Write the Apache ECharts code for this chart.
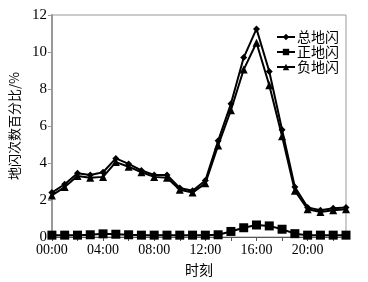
<!DOCTYPE html>
<html><head><meta charset="utf-8">
<script src="https://cdn.jsdelivr.net/npm/echarts@6/dist/echarts.min.js"></script>
<style>html,body{margin:0;padding:0;background:#fff}#c{width:368px;height:282px}</style>
</head><body><div id="c"></div>
<script>
const hours = ["00:00","01:00","02:00","03:00","04:00","05:00","06:00","07:00","08:00","09:00","10:00","11:00","12:00","13:00","14:00","15:00","16:00","17:00","18:00","19:00","20:00","21:00","22:00","23:00"];
const totalFlash = [2.4,2.85,3.45,3.35,3.5,4.25,3.95,3.6,3.35,3.35,2.65,2.5,3.05,5.2,7.2,9.7,11.25,8.95,5.8,2.7,1.6,1.45,1.55,1.6];
const positiveFlash = [0.1,0.1,0.1,0.12,0.17,0.15,0.12,0.1,0.1,0.1,0.1,0.1,0.1,0.12,0.3,0.5,0.65,0.6,0.42,0.18,0.1,0.1,0.1,0.1];
const negativeFlash = [2.25,2.7,3.3,3.2,3.25,4.05,3.8,3.5,3.25,3.2,2.55,2.4,2.9,4.95,6.85,9.05,10.5,8.2,5.45,2.5,1.5,1.35,1.45,1.5];
const yTicks = [0,2,4,6,8,10,12];
const names = ["总地闪","正地闪","负地闪"];

const serif = "'Liberation Serif','Noto Sans CJK SC',serif";
const chart = echarts.init(document.getElementById('c'));
const mk = (name, data, symbol, size) => ({
  name, type: 'line', data, symbol, symbolSize: size, showAllSymbol: true,
  lineStyle: {color: '#000', width: 2},
  itemStyle: {color: '#000'},
  emphasis: {disabled: true}, animation: false
});
chart.setOption({
  animation: false,
  grid: {left: 42, right: 22, top: 15, bottom: 43, show: true, borderColor: '#999', borderWidth: 1, backgroundColor: '#fff'},
  legend: {
    right: 24, top: 25, orient: 'vertical', itemGap: 1, itemWidth: 18, itemHeight: 8,
    textStyle: {fontFamily: "'Noto Sans CJK SC',serif", fontSize: 14, color: '#000', padding: [0,0,0,-3]},
    data: names
  },
  xAxis: {
    type: 'category', data: hours, boundaryGap: false,
    name: '时刻', nameLocation: 'middle', nameGap: 26,
    nameTextStyle: {fontFamily: "'Noto Sans CJK SC',serif", fontSize: 14, color: '#000'},
    axisLine: {lineStyle: {color: '#555', width: 1}},
    axisTick: {interval: 1, length: 4, lineStyle: {color: '#555'}},
    axisLabel: {interval: 3, fontFamily: serif, fontSize: 14, color: '#000', margin: 6}
  },
  yAxis: {
    type: 'value', min: 0, max: 12, interval: 2,
    name: '地闪次数百分比/%', nameLocation: 'middle', nameGap: 22, nameRotate: 90,
    nameTextStyle: {fontFamily: "'Noto Sans CJK SC',serif", fontSize: 13, color: '#000'},
    axisLine: {show: true, lineStyle: {color: '#999', width: 2}},
    axisTick: {show: true, length: 4, lineStyle: {color: '#999'}},
    splitLine: {show: false},
    axisLabel: {fontFamily: serif, fontSize: 15, color: '#000', margin: 5,
      formatter: v => yTicks.includes(v) ? String(v) : ''}
  },
  series: [
    mk(names[0], totalFlash, 'diamond', 7),
    mk(names[1], positiveFlash, 'rect', 9),
    mk(names[2], negativeFlash, 'triangle', 8)
  ]
});
</script></body></html>
